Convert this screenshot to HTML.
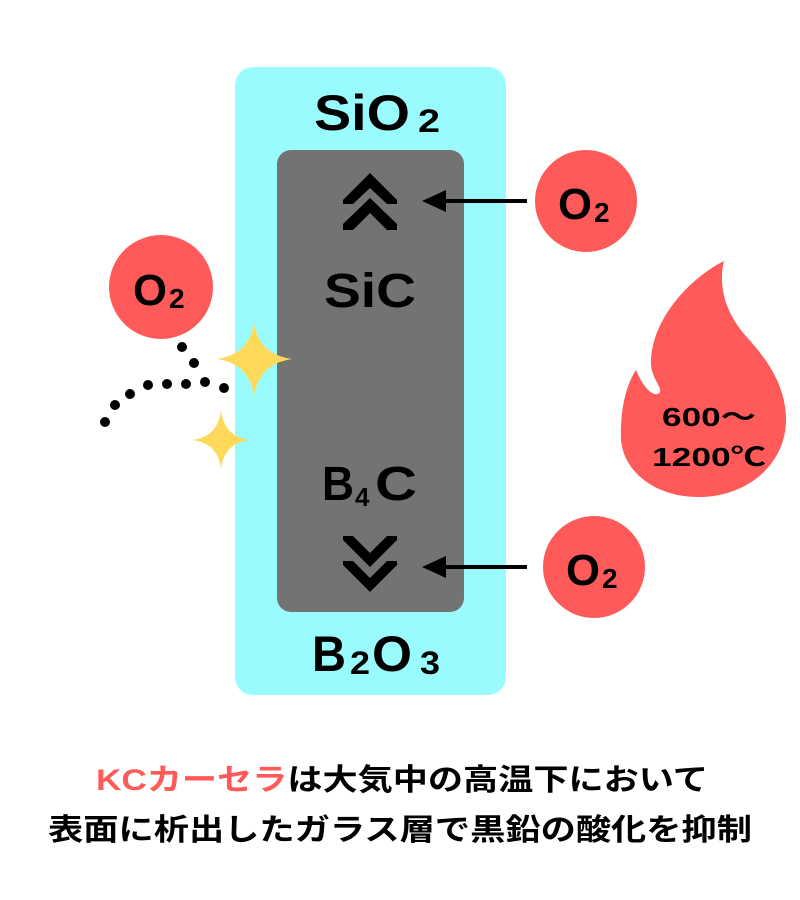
<!DOCTYPE html>
<html><head><meta charset="utf-8"><style>
html,body{margin:0;padding:0;background:#fff;}
svg{display:block;}
text{font-family:"Liberation Sans","Noto Sans CJK JP",sans-serif;font-weight:bold;fill:#000;}
</style></head><body>
<svg width="800" height="900" viewBox="0 0 800 900" xmlns="http://www.w3.org/2000/svg">
<rect x="235" y="67" width="271" height="628" rx="18" fill="#9afbff"/>
<rect x="277" y="150" width="187" height="462" rx="14" fill="#737373"/>
<text x="314" y="130" font-size="50" textLength="96" lengthAdjust="spacingAndGlyphs">SiO</text>
<text x="418" y="132" font-size="32" textLength="22" lengthAdjust="spacingAndGlyphs">2</text>
<text x="312" y="671" font-size="50" textLength="34" lengthAdjust="spacingAndGlyphs">B</text>
<text x="350" y="674" font-size="32" textLength="20" lengthAdjust="spacingAndGlyphs">2</text>
<text x="372" y="671" font-size="50" textLength="40" lengthAdjust="spacingAndGlyphs">O</text>
<text x="420" y="674" font-size="32" textLength="20" lengthAdjust="spacingAndGlyphs">3</text>
<text x="324" y="307" font-size="48" textLength="92" lengthAdjust="spacingAndGlyphs">SiC</text>
<text x="322" y="500" font-size="48" textLength="32" lengthAdjust="spacingAndGlyphs">B</text>
<text x="355" y="506" font-size="26">4</text>
<text x="375" y="500" font-size="48" textLength="42" lengthAdjust="spacingAndGlyphs">C</text>
<path d="M343 200 L370 173 L397 200 L397 204 L387 204 L370 188 L353 204 L343 204 Z" fill="#000"/>
<path d="M343 224 L370 198 L397 224 L397 230 L387 230 L370 213 L353 230 L343 230 Z" fill="#000"/>
<path d="M343 536 L353 536 L370 553 L387 536 L397 536 L397 540 L370 567 L343 540 Z" fill="#000"/>
<path d="M343 561 L353 561 L370 578 L387 561 L397 561 L397 565 L370 592 L343 565 Z" fill="#000"/>
<line x1="440" y1="201" x2="527" y2="201" stroke="#000" stroke-width="4"/>
<path d="M422 201 L446 190 L446 212 Z" fill="#000"/>
<line x1="440" y1="567" x2="527" y2="567" stroke="#000" stroke-width="4"/>
<path d="M422 567 L446 556 L446 578 Z" fill="#000"/>
<circle cx="586" cy="201" r="51" fill="#ff5a5a"/>
<text x="558" y="219" font-size="44" textLength="34" lengthAdjust="spacingAndGlyphs">O</text><text x="594" y="222" font-size="28">2</text>
<circle cx="594" cy="567" r="51" fill="#ff5a5a"/>
<text x="566" y="585" font-size="44" textLength="34" lengthAdjust="spacingAndGlyphs">O</text><text x="602" y="588" font-size="28">2</text>
<circle cx="161" cy="287" r="52" fill="#ff5a5a"/>
<text x="133" y="305" font-size="44" textLength="34" lengthAdjust="spacingAndGlyphs">O</text><text x="169" y="308" font-size="28">2</text>
<g fill="#000">
<circle cx="182" cy="347" r="5"/><circle cx="194" cy="363" r="5"/>
<circle cx="105" cy="422" r="5"/><circle cx="115" cy="405" r="5"/><circle cx="130" cy="394" r="5"/>
<circle cx="148" cy="385" r="5"/><circle cx="167" cy="384" r="5"/><circle cx="186" cy="384" r="5"/>
<circle cx="205" cy="382" r="5"/><circle cx="224" cy="388" r="5"/>
</g>
<path d="M254 322 Q258 354 292 359 Q258 364 254 397 Q250 364 217 359 Q250 354 254 322 Z" fill="#ffd95a"/>
<path d="M221 410 Q224 437 250 440 Q224 443 221 469 Q218 443 192 440 Q218 437 221 410 Z" fill="#ffd95a"/>
<path d="M724 261 C690 278 650 320 651 365 C652 378 662 388 660 392 C656 398 645 392 636 370 C626 385 620 410 621 440 C624 475 660 498 700 497 C750 496 786 462 786 420 C786 380 760 352 745 335 C725 312 718 285 724 261 Z" fill="#ff5a5a"/>
<text x="662" y="426" font-size="26" textLength="94" lengthAdjust="spacingAndGlyphs">600～</text>
<text x="652" y="466" font-size="26" textLength="114" lengthAdjust="spacingAndGlyphs">1200℃</text>
<text x="96" y="790" font-size="30" textLength="612" lengthAdjust="spacingAndGlyphs"><tspan fill="#ff5a5a">KCカーセラ</tspan>は大気中の高温下において</text>
<text x="48" y="840" font-size="30" textLength="704" lengthAdjust="spacingAndGlyphs">表面に析出したガラス層で黒鉛の酸化を抑制</text>
</svg>
</body></html>
